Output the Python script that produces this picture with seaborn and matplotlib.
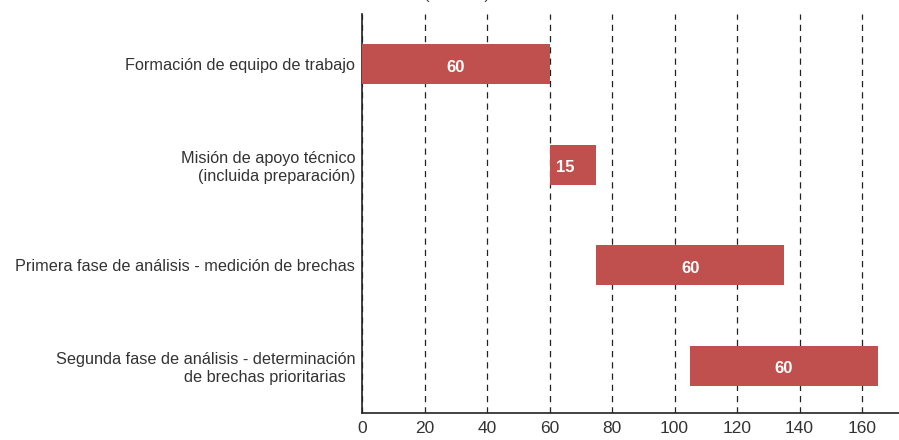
import matplotlib
matplotlib.use("Agg")
import matplotlib.pyplot as plt
import seaborn as sns
import pandas as pd

# Datos del cronograma (días)
tasks = [
    "Formación de equipo de trabajo",
    "Misión de apoyo técnico\n(incluida preparación)",
    "Primera fase de análisis - medición de brechas",
    "Segunda fase de análisis - determinación\nde brechas prioritarias  ",
]
starts = [0, 60, 75, 105]
durations = [60, 15, 60, 60]
x_ticks = [0, 20, 40, 60, 80, 100, 120, 140, 160]

bar_color = "#C0504D"
text_color = "#333333"

sns.set_style("white")
plt.rcParams["font.family"] = ["Liberation Sans", "DejaVu Sans"]

df = pd.DataFrame({"task": tasks, "start": starts, "dur": durations})

fig = plt.figure(figsize=(8.99, 4.40), dpi=100)
ax = fig.add_axes([0.4027, 0.0614, 0.5973, 0.9068])

sns.barplot(data=df, x="dur", y="task", color=bar_color, saturation=1,
            width=0.4, orient="h", ax=ax, zorder=3)

# desplazar cada barra a su día de inicio
for patch, s, d in zip(ax.patches, starts, durations):
    patch.set_x(s)
    patch.set_edgecolor("none")
    cy = patch.get_y() + patch.get_height() / 2
    if d >= 30:
        ax.text(s + d / 2, cy + 0.03, str(d), color="white", fontsize=12,
                fontweight="bold", ha="center", va="center", zorder=4)
    else:
        ax.text(s + 2, cy + 0.03, str(d), color="white", fontsize=12,
                fontweight="bold", ha="left", va="center", zorder=4)

ax.set_xlim(0, 171.8)
ax.set_ylim(3.47, -0.5)
ax.set_xticks(x_ticks)
ax.set_xlabel("")
ax.set_ylabel("")
ax.tick_params(axis="x", direction="out", length=5, width=1, labelsize=12.5,
               pad=1, colors=text_color)
ax.tick_params(axis="y", length=0, labelsize=11.7, pad=5, colors=text_color)
ax.grid(axis="x", linestyle=(0, (5, 4)), color="#222222", linewidth=0.9, zorder=0)
ax.set_axisbelow(True)

sns.despine(ax=ax, top=True, right=True)
for side in ["left", "bottom"]:
    ax.spines[side].set_color("#222222")
    ax.spines[side].set_linewidth(1.2)

# título recortado en el borde superior
fig.text(0.508, 1.0 + 6 / 440, "(en días)", ha="center", va="center",
         fontsize=12, color="#444444")

fig.savefig("out.png", dpi=100)
